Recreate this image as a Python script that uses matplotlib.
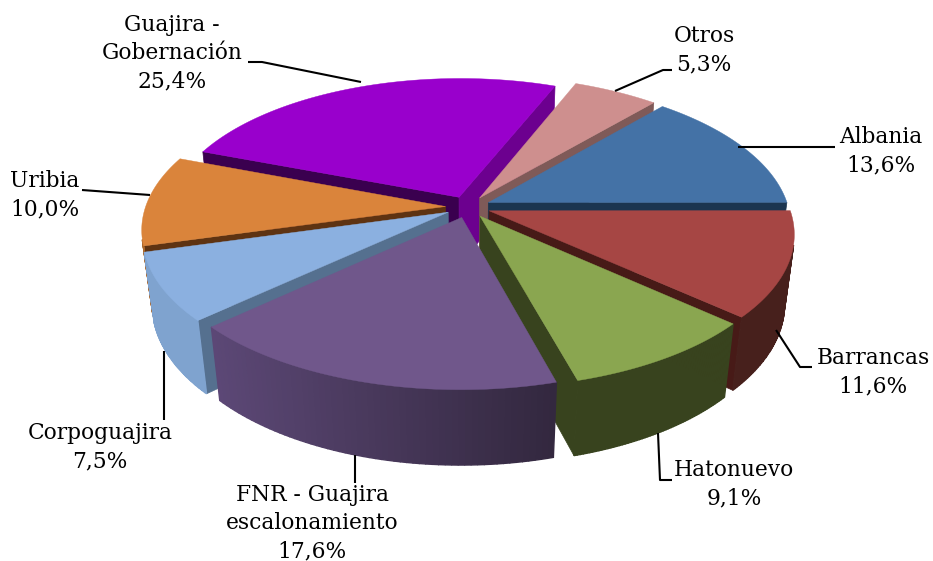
import numpy as np
import matplotlib
matplotlib.use("Agg")
import matplotlib.pyplot as plt
from matplotlib.colors import to_rgb

# datos, en sentido horario desde Albania
categories = ["Albania", "Barrancas", "Hatonuevo", "FNR - Guajira\nescalonamiento",
              "Corpoguajira", "Uribia", "Guajira -\nGobernación", "Otros"]
values = [13.6, 11.6, 9.1, 17.6, 7.5, 10.0, 25.4, 5.3]

top_colors = ["#4472a6", "#a64644", "#8aa650", "#70578b", "#8bb0e0", "#da843b", "#9900cc", "#ce8f8e"]
cut_start = ["#1b3550", "#471a17", "#38431e", "#35294a", "#55708f", "#5e3312", "#3a004f", "#7f5a58"]
cut_end = ["#1b3550", "#471a17", "#38431e", "#35294a", "#55708f", "#5e3312", "#6c008f", "#7f5a58"]
wall_left = ["#1b3550", "#471a17", "#3b4720", "#5f4a7a", "#7fa3cf", "#a8662c", "#6c008f", "#7f5a58"]
wall_right = ["#1b3550", "#47201c", "#38431e", "#33283f", "#7a9bc4", "#a8662c", "#6c008f", "#7f5a58"]
radius_scale = [1, 1, 1, 1, 1, 1, 0.97, 1]

# orden de dibujo, de atras hacia adelante
draw_order = [6, 7, 0, 5, 1, 4, 2, 3]

# etiquetas y lineas guia (pixeles)
label_pos = [(881, 151), (873, 372), (734, 484), (312, 523), (100, 447), (45, 195), (172, 53), (704, 50)]
leaders = [
    [(738, 147), (835, 147)],
    [(776, 330), (800, 367), (812, 367)],
    [(658, 433), (660, 480), (672, 480)],
    [(355, 455), (355, 483)],
    [(164, 351), (164, 420)],
    [(82, 190), (150, 195)],
    [(248, 62), (262, 62), (361, 82)],
    [(615, 91), (663, 70), (672, 70)],
]

cx, cy = 468, 207
rx, ry, depth = 300, 143, 71
persp, persp_z, explode = 0.15, 0.03, 0.075


def project(x, y, z):
    s = 1 / (1 + persp * y + persp_z * z)
    return cx + rx * x * s, cy - ry * y * s + depth * z * s


def mix(a, b, t):
    a, b = np.array(to_rgb(a)), np.array(to_rgb(b))
    return tuple(a + (b - a) * t)


def quad_area(px, py):
    return 0.5 * np.sum(px * np.roll(py, -1) - np.roll(px, -1) * py)


fig = plt.figure(figsize=(9.33, 5.61), dpi=100)
ax = fig.add_axes([0, 0, 1, 1])
ax.set_xlim(0, 933)
ax.set_ylim(561, 0)
ax.axis("off")

fractions = np.array(values) / sum(values) * 2 * np.pi
ends = np.pi * 49 / 180 - np.cumsum(fractions)
starts = ends + fractions

for i in draw_order:
    z = 1 + draw_order.index(i)
    th = np.linspace(starts[i], ends[i], 60)
    mid = (starts[i] + ends[i]) / 2
    ox, oy = explode * np.cos(mid), explode * np.sin(mid)
    xs, ys = ox + radius_scale[i] * np.cos(th), oy + radius_scale[i] * np.sin(th)

    # caras de corte
    for k, col in ((0, cut_start[i]), (-1, cut_end[i])):
        qx = np.array([ox, xs[k], xs[k], ox])
        qy = np.array([oy, ys[k], ys[k], oy])
        sx, sy = project(qx, qy, np.array([0, 0, 1, 1]))
        area = quad_area(sx, sy)
        if (k == 0 and area < 0) or (k == -1 and area > 0):
            ax.fill(sx, sy, color=col, lw=0.5, zorder=z)

    # pared exterior
    for j in range(len(th) - 1):
        qx = np.array([xs[j], xs[j + 1], xs[j + 1], xs[j]])
        qy = np.array([ys[j], ys[j + 1], ys[j + 1], ys[j]])
        sx, sy = project(qx, qy, np.array([0, 0, 1, 1]))
        if quad_area(sx, sy) < 0:
            t = np.clip((sx.mean() - 190) / 360, 0, 1)
            ax.fill(sx, sy, color=mix(wall_left[i], wall_right[i], t), lw=1, zorder=z)

    # cara superior
    sx, sy = project(np.r_[ox, xs], np.r_[oy, ys], 0)
    ax.fill(sx, sy, color=top_colors[i], lw=0.3, zorder=z)

for i, name in enumerate(categories):
    pct = f"{values[i]:.1f}".replace(".", ",")
    ax.text(label_pos[i][0], label_pos[i][1], f"{name}\n{pct}%", ha="center", va="center",
            fontsize=15.7, family="DejaVu Serif", linespacing=1.38, color="black", zorder=20)
    pts = np.array(leaders[i])
    ax.plot(pts[:, 0], pts[:, 1], color="black", lw=1.5, zorder=20, solid_capstyle="butt")

fig.savefig("out.png", dpi=100, facecolor="white")
